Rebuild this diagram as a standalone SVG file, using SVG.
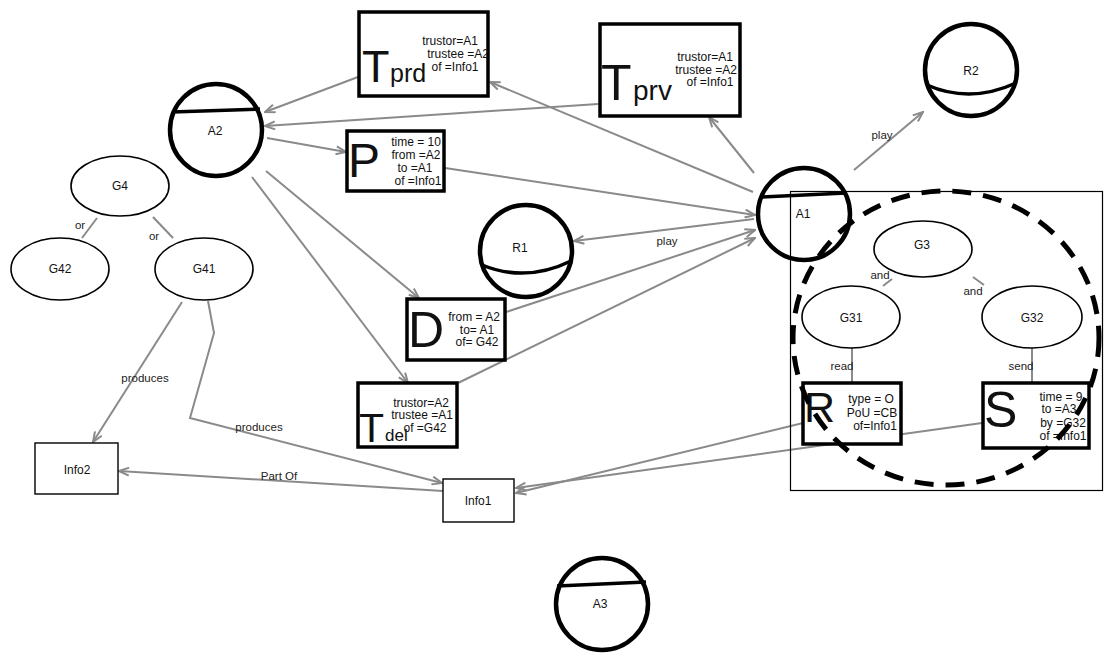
<svg xmlns="http://www.w3.org/2000/svg" width="1113" height="660" viewBox="0 0 1113 660">
  <defs>
    <marker id="arr" viewBox="0 0 12 10" refX="11" refY="5" markerWidth="12" markerHeight="10" markerUnits="userSpaceOnUse" orient="auto">
      <path d="M1,1 L11,5 L1,9" fill="none" stroke="#8a8a8a" stroke-width="2"/>
    </marker>
    <style>
      text { font-family: "Liberation Sans", Arial, sans-serif; fill: #111; }
      .sm { font-size: 12px; }
      .mid { text-anchor: middle; }
      .lbl { font-size: 11.5px; fill: #222; text-anchor: middle; }
      .conn { fill: none; stroke: #8a8a8a; stroke-width: 2; }
      .arrow { marker-end: url(#arr); }
      .agent { fill: #fff; stroke: #000; stroke-width: 4.5; }
      .chord { fill: none; stroke: #000; stroke-width: 3.5; }
      .act { fill: #fff; stroke: #000; stroke-width: 3.5; }
      .goal { fill: #fff; stroke: #000; stroke-width: 1.6; }
      .info { fill: #fff; stroke: #000; stroke-width: 1.4; }
    </style>
  </defs>

  <rect width="1113" height="660" fill="#fff"/>

  <!-- connectors -->
  <g id="connectors">
    <line class="conn arrow" x1="358" y1="77" x2="265" y2="112"/>
    <line class="conn arrow" x1="598" y1="104" x2="265" y2="126"/>
    <line class="conn arrow" x1="267" y1="138" x2="346" y2="152"/>
    <line class="conn arrow" x1="445" y1="168" x2="755" y2="215"/>
    <line class="conn arrow" x1="753" y1="192" x2="490" y2="82"/>
    <line class="conn arrow" x1="754" y1="173" x2="709" y2="117"/>
    <line class="conn arrow" x1="854" y1="170" x2="923" y2="112"/>
    <line class="conn arrow" x1="754" y1="219" x2="574" y2="241"/>
    <line class="conn arrow" x1="506" y1="312" x2="755" y2="230"/>
    <line class="conn arrow" x1="458" y1="383" x2="755" y2="238"/>
    <line class="conn arrow" x1="266" y1="171" x2="419" y2="298"/>
    <line class="conn arrow" x1="252" y1="177" x2="408" y2="383"/>
    <line class="conn arrow" x1="803" y1="423" x2="516" y2="493"/>
    <line class="conn arrow" x1="982" y1="423" x2="516" y2="488"/>
    <line class="conn arrow" x1="182" y1="302" x2="93" y2="442"/>
    <polyline class="conn arrow" points="208,301 214,333 190,418 442,483"/>
    <line class="conn arrow" x1="443" y1="491" x2="119" y2="471"/>
    <line class="conn" x1="97" y1="218" x2="82" y2="238"/>
    <line class="conn" x1="153" y1="217" x2="173" y2="238"/>
    <line class="conn" x1="892" y1="279" x2="883" y2="286"/>
    <line class="conn" x1="973" y1="277" x2="984" y2="285"/>
    <line class="conn" x1="852" y1="348" x2="852" y2="383"/>
    <line class="conn" x1="1032" y1="348" x2="1032" y2="383"/>

    <text class="lbl" x="145" y="382">produces</text>
    <text class="lbl" x="259" y="431">produces</text>
    <text class="lbl" x="279" y="480">Part Of</text>
    <text class="lbl" x="667" y="245">play</text>
    <text class="lbl" x="882" y="139">play</text>
    <text class="lbl" x="80" y="229">or</text>
    <text class="lbl" x="154" y="240">or</text>
    <text class="lbl" x="880" y="279">and</text>
    <text class="lbl" x="973" y="295">and</text>
    <text class="lbl" x="842" y="370">read</text>
    <text class="lbl" x="1021" y="370">send</text>
  </g>

  <!-- agents -->
  <g id="A2">
    <circle class="agent" cx="216" cy="130" r="46"/>
    <path class="chord" d="M172,112 L260,109"/>
    <text class="sm mid" x="215" y="135">A2</text>
  </g>
  <g id="A3">
    <circle class="agent" cx="602" cy="604" r="46"/>
    <path class="chord" d="M557,586 L646,582"/>
    <text class="sm mid" x="600" y="608">A3</text>
  </g>

  <!-- roles -->
  <g id="R1">
    <circle class="agent" cx="526" cy="251" r="46"/>
    <path class="chord" d="M482,265 Q526,283 571,261"/>
    <text class="sm mid" x="520" y="252">R1</text>
  </g>
  <g id="R2">
    <circle class="agent" cx="971" cy="70" r="46"/>
    <path class="chord" d="M927,85 Q970,104 1016,83"/>
    <text class="sm mid" x="971" y="75">R2</text>
  </g>

  <!-- goals -->
  <g id="G4">
    <ellipse class="goal" cx="120" cy="186" rx="49" ry="30"/>
    <text class="sm mid" x="120" y="190">G4</text>
  </g>
  <g id="G42">
    <ellipse class="goal" cx="60" cy="269" rx="49" ry="31"/>
    <text class="sm mid" x="60" y="273">G42</text>
  </g>
  <g id="G41">
    <ellipse class="goal" cx="204" cy="269" rx="49" ry="31"/>
    <text class="sm mid" x="204" y="273">G41</text>
  </g>
  <g id="G3">
    <ellipse class="goal" cx="923" cy="249" rx="49" ry="28"/>
    <text class="sm mid" x="922" y="249">G3</text>
  </g>
  <g id="G31">
    <ellipse class="goal" cx="851" cy="317" rx="49" ry="31"/>
    <text class="sm mid" x="851" y="322">G31</text>
  </g>
  <g id="G32">
    <ellipse class="goal" cx="1032" cy="317" rx="50" ry="31"/>
    <text class="sm mid" x="1032" y="322">G32</text>
  </g>

  <!-- information -->
  <g id="Info2">
    <rect class="info" x="35" y="443" width="83" height="51"/>
    <text class="sm mid" x="77" y="474">Info2</text>
  </g>
  <g id="Info1">
    <rect class="info" x="443" y="479" width="71" height="43"/>
    <text class="sm mid" x="478" y="505">Info1</text>
  </g>

  <!-- trust / action boxes -->
  <g id="Tprd">
    <rect class="act" x="359" y="12" width="129" height="84"/>
    <text x="362" y="82" font-size="45">T</text>
    <text x="390" y="82" font-size="25">prd</text>
    <text class="sm mid" x="450" y="45">trustor=A1</text>
    <text class="sm mid" x="458" y="58">trustee =A2</text>
    <text class="sm mid" x="455" y="71">of =Info1</text>
  </g>
  <g id="Tprv">
    <rect class="act" x="600" y="24" width="140" height="92"/>
    <text x="601" y="100" font-size="50">T</text>
    <text x="633" y="100" font-size="28">prv</text>
    <text class="sm mid" x="705" y="61">trustor=A1</text>
    <text class="sm mid" x="706" y="74">trustee =A2</text>
    <text class="sm mid" x="710" y="86">of =Info1</text>
  </g>
  <g id="P">
    <rect class="act" x="347" y="131" width="97" height="60"/>
    <text x="348" y="177" font-size="48">P</text>
    <text class="sm mid" x="416" y="146">time = 10</text>
    <text class="sm mid" x="416" y="159">from =A2</text>
    <text class="sm mid" x="415" y="172">to =A1</text>
    <text class="sm mid" x="418" y="185">of =Info1</text>
  </g>
  <g id="D">
    <rect class="act" x="407" y="299" width="98" height="61"/>
    <text x="408" y="347" font-size="50">D</text>
    <text class="sm mid" x="474" y="321">from = A2</text>
    <text class="sm mid" x="477" y="334">to= A1</text>
    <text class="sm mid" x="477" y="346">of= G42</text>
  </g>
  <g id="Tdel">
    <rect class="act" x="358" y="383" width="99" height="64"/>
    <text x="359" y="442" font-size="41">T</text>
    <text x="385" y="441" font-size="17">del</text>
    <text class="sm mid" x="421" y="407">trustor=A2</text>
    <text class="sm mid" x="422" y="419">trustee =A1</text>
    <text class="sm mid" x="425" y="432">of =G42</text>
  </g>
  <g id="R">
    <rect class="act" x="803" y="383" width="98" height="61"/>
    <text x="804" y="422" font-size="43">R</text>
    <text class="sm mid" x="871" y="403">type = O</text>
    <text class="sm mid" x="872" y="417">PoU =CB</text>
    <text class="sm mid" x="875" y="430">of=Info1</text>
  </g>
  <g id="S">
    <rect class="act" x="983" y="383" width="106" height="65"/>
    <text x="984" y="427" font-size="50">S</text>
    <text class="sm mid" x="1061" y="401">time = 9</text>
    <text class="sm mid" x="1059" y="413">to =A3</text>
    <text class="sm mid" x="1063" y="427">by =G32</text>
    <text class="sm mid" x="1063" y="440">of =Info1</text>
  </g>

  <!-- agent A1 and its organisation frame -->
  <g id="A1">
    <circle class="agent" cx="804" cy="214" r="46" style="fill:none"/>
    <path class="chord" d="M761,197 L846,193"/>
    <text class="sm mid" x="803" y="218">A1</text>
  </g>
  <g id="A1-scope">
    <rect x="790.5" y="191.5" width="312" height="299" fill="none" stroke="#000" stroke-width="1.2"/>
    <ellipse cx="946" cy="338" rx="153" ry="147" fill="none" stroke="#000" stroke-width="5" stroke-dasharray="19 12"/>
  </g>
</svg>
